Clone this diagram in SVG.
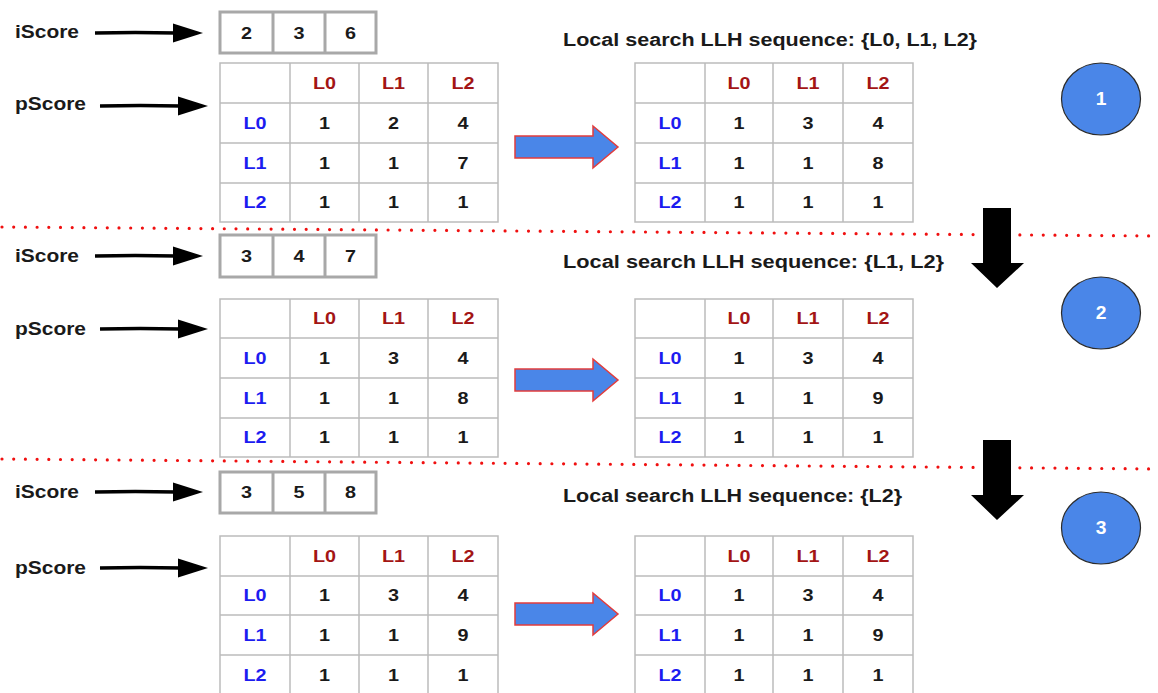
<svg xmlns="http://www.w3.org/2000/svg" width="1158" height="693" viewBox="0 0 1158 693">
<style>
.t{font-family:"Liberation Sans",Arial,Helvetica,sans-serif;font-weight:bold}
.lbl{font-size:18px;fill:#1a1a1a}
.c{font-size:16.5px;text-anchor:middle;fill:#1a1a1a;transform-box:fill-box;transform-origin:center;transform:scaleX(1.2)}
.h{fill:#a31515}
.r{fill:#1c1cf0}
.grid{fill:none;stroke:#bcbcbc;stroke-width:1.5}
.ibox{fill:#fff;stroke:#a8a8a8;stroke-width:3}
.dot{stroke:#f01010;stroke-width:3.2;stroke-dasharray:0 11.7;stroke-linecap:round;fill:none}
.shaft{stroke:#000;stroke-width:3.5;fill:none}
.head{fill:#000}
.blue{fill:#4a86e8;stroke:#e23c3c;stroke-width:1.5}
.down{fill:#000}
.circ{fill:#4a86e8;stroke:#2b2b2b;stroke-width:1.2}
.num{font-size:17.5px;fill:#fff;text-anchor:middle;transform-box:fill-box;transform-origin:center;transform:scaleX(1.1)}
</style>
<rect width="1158" height="693" fill="#fff"/>

<g id="separators">
<line class="dot" x1="2" y1="227" x2="1158" y2="236"/>
<line class="dot" x1="2" y1="459" x2="1158" y2="469"/>
</g>

<g id="labels" class="t lbl">
<text x="15" y="38" textLength="64" lengthAdjust="spacingAndGlyphs">iScore</text>
<text x="15" y="110" textLength="71" lengthAdjust="spacingAndGlyphs">pScore</text>
<text x="15" y="262" textLength="64" lengthAdjust="spacingAndGlyphs">iScore</text>
<text x="15" y="335" textLength="71" lengthAdjust="spacingAndGlyphs">pScore</text>
<text x="15" y="498" textLength="64" lengthAdjust="spacingAndGlyphs">iScore</text>
<text x="15" y="574" textLength="71" lengthAdjust="spacingAndGlyphs">pScore</text>
<text x="563" y="46" textLength="414" lengthAdjust="spacingAndGlyphs">Local search LLH sequence: {L0, L1, L2}</text>
<text x="563" y="268" textLength="381" lengthAdjust="spacingAndGlyphs">Local search LLH sequence: {L1, L2}</text>
<text x="563" y="502" textLength="339" lengthAdjust="spacingAndGlyphs">Local search LLH sequence: {L2}</text>
</g>

<!-- iScore arrays -->
<g id="iscore1">
<rect class="ibox" x="220" y="12" width="156" height="41"/>
<path class="ibox" d="M273 12V53M325 12V53"/>
<g class="t"><text class="c" x="246.5" y="39">2</text><text class="c" x="299" y="39">3</text><text class="c" x="350.5" y="39">6</text></g>
</g>
<g id="iscore2">
<rect class="ibox" x="220" y="235" width="156" height="42"/>
<path class="ibox" d="M273 235V277M325 235V277"/>
<g class="t"><text class="c" x="246.5" y="262">3</text><text class="c" x="299" y="262">4</text><text class="c" x="350.5" y="262">7</text></g>
</g>
<g id="iscore3">
<rect class="ibox" x="220" y="472" width="156" height="41"/>
<path class="ibox" d="M273 472V513M325 472V513"/>
<g class="t"><text class="c" x="246.5" y="498">3</text><text class="c" x="299" y="498">5</text><text class="c" x="350.5" y="498">8</text></g>
</g>

<!-- Panel 1 left table -->
<g id="p1-left">
<rect x="220" y="63" width="278" height="159" fill="#fff"/>
<path class="grid" d="M220 63H498V222H220ZM290 63V222M359 63V222M428 63V222M220 103H498M220 143H498M220 183H498"/>
<g class="t">
<text class="c h" x="324.5" y="89">L0</text><text class="c h" x="393.5" y="89">L1</text><text class="c h" x="463" y="89">L2</text>
<text class="c r" x="255" y="129">L0</text><text class="c" x="324.5" y="129">1</text><text class="c" x="393.5" y="129">2</text><text class="c" x="463" y="129">4</text>
<text class="c r" x="255" y="169">L1</text><text class="c" x="324.5" y="169">1</text><text class="c" x="393.5" y="169">1</text><text class="c" x="463" y="169">7</text>
<text class="c r" x="255" y="208">L2</text><text class="c" x="324.5" y="208">1</text><text class="c" x="393.5" y="208">1</text><text class="c" x="463" y="208">1</text>
</g>
</g>
<!-- Panel 1 right table -->
<g id="p1-right">
<rect x="635" y="63" width="278" height="159" fill="#fff"/>
<path class="grid" d="M635 63H913V222H635ZM705 63V222M773 63V222M843 63V222M635 103H913M635 143H913M635 183H913"/>
<g class="t">
<text class="c h" x="739" y="89">L0</text><text class="c h" x="808" y="89">L1</text><text class="c h" x="878" y="89">L2</text>
<text class="c r" x="670" y="129">L0</text><text class="c" x="739" y="129">1</text><text class="c" x="808" y="129">3</text><text class="c" x="878" y="129">4</text>
<text class="c r" x="670" y="169">L1</text><text class="c" x="739" y="169">1</text><text class="c" x="808" y="169">1</text><text class="c" x="878" y="169">8</text>
<text class="c r" x="670" y="208">L2</text><text class="c" x="739" y="208">1</text><text class="c" x="808" y="208">1</text><text class="c" x="878" y="208">1</text>
</g>
</g>

<!-- Panel 2 left table -->
<g id="p2-left">
<rect x="220" y="299" width="278" height="158" fill="#fff"/>
<path class="grid" d="M220 299H498V457H220ZM290 299V457M359 299V457M428 299V457M220 338H498M220 378H498M220 418H498"/>
<g class="t">
<text class="c h" x="324.5" y="324.5">L0</text><text class="c h" x="393.5" y="324.5">L1</text><text class="c h" x="463" y="324.5">L2</text>
<text class="c r" x="255" y="364">L0</text><text class="c" x="324.5" y="364">1</text><text class="c" x="393.5" y="364">3</text><text class="c" x="463" y="364">4</text>
<text class="c r" x="255" y="404">L1</text><text class="c" x="324.5" y="404">1</text><text class="c" x="393.5" y="404">1</text><text class="c" x="463" y="404">8</text>
<text class="c r" x="255" y="443.5">L2</text><text class="c" x="324.5" y="443.5">1</text><text class="c" x="393.5" y="443.5">1</text><text class="c" x="463" y="443.5">1</text>
</g>
</g>
<!-- Panel 2 right table -->
<g id="p2-right">
<rect x="635" y="299" width="278" height="158" fill="#fff"/>
<path class="grid" d="M635 299H913V457H635ZM705 299V457M773 299V457M843 299V457M635 338H913M635 378H913M635 418H913"/>
<g class="t">
<text class="c h" x="739" y="324.5">L0</text><text class="c h" x="808" y="324.5">L1</text><text class="c h" x="878" y="324.5">L2</text>
<text class="c r" x="670" y="364">L0</text><text class="c" x="739" y="364">1</text><text class="c" x="808" y="364">3</text><text class="c" x="878" y="364">4</text>
<text class="c r" x="670" y="404">L1</text><text class="c" x="739" y="404">1</text><text class="c" x="808" y="404">1</text><text class="c" x="878" y="404">9</text>
<text class="c r" x="670" y="443.5">L2</text><text class="c" x="739" y="443.5">1</text><text class="c" x="808" y="443.5">1</text><text class="c" x="878" y="443.5">1</text>
</g>
</g>

<!-- Panel 3 left table -->
<g id="p3-left">
<rect x="220" y="536" width="278" height="160" fill="#fff"/>
<path class="grid" d="M220 696V536H498V696M290 536V696M359 536V696M428 536V696M220 576H498M220 615H498M220 655H498"/>
<g class="t">
<text class="c h" x="324.5" y="562">L0</text><text class="c h" x="393.5" y="562">L1</text><text class="c h" x="463" y="562">L2</text>
<text class="c r" x="255" y="601.5">L0</text><text class="c" x="324.5" y="601.5">1</text><text class="c" x="393.5" y="601.5">3</text><text class="c" x="463" y="601.5">4</text>
<text class="c r" x="255" y="641">L1</text><text class="c" x="324.5" y="641">1</text><text class="c" x="393.5" y="641">1</text><text class="c" x="463" y="641">9</text>
<text class="c r" x="255" y="681">L2</text><text class="c" x="324.5" y="681">1</text><text class="c" x="393.5" y="681">1</text><text class="c" x="463" y="681">1</text>
</g>
</g>
<!-- Panel 3 right table -->
<g id="p3-right">
<rect x="635" y="536" width="278" height="160" fill="#fff"/>
<path class="grid" d="M635 696V536H913V696M705 536V696M773 536V696M843 536V696M635 576H913M635 615H913M635 655H913"/>
<g class="t">
<text class="c h" x="739" y="562">L0</text><text class="c h" x="808" y="562">L1</text><text class="c h" x="878" y="562">L2</text>
<text class="c r" x="670" y="601.5">L0</text><text class="c" x="739" y="601.5">1</text><text class="c" x="808" y="601.5">3</text><text class="c" x="878" y="601.5">4</text>
<text class="c r" x="670" y="641">L1</text><text class="c" x="739" y="641">1</text><text class="c" x="808" y="641">1</text><text class="c" x="878" y="641">9</text>
<text class="c r" x="670" y="681">L2</text><text class="c" x="739" y="681">1</text><text class="c" x="808" y="681">1</text><text class="c" x="878" y="681">1</text>
</g>
</g>

<!-- Step circles -->
<g id="step1"><ellipse class="circ" cx="1101" cy="99" rx="39.5" ry="36"/><text class="t num" x="1101" y="105.5">1</text></g>
<g id="step2"><ellipse class="circ" cx="1101" cy="313" rx="39.5" ry="36"/><text class="t num" x="1101" y="319.5">2</text></g>
<g id="step3"><ellipse class="circ" cx="1101" cy="528" rx="39.5" ry="36"/><text class="t num" x="1101" y="534.5">3</text></g>

<g id="connectors">
<!-- label arrows -->
<path class="shaft" d="M95 33Q135 32 176 33"/><polygon class="head" points="173,23.5 203,33 173,42.5"/>
<path class="shaft" d="M100 106Q140 105 181 106"/><polygon class="head" points="178,96.5 208,106 178,115.5"/>
<path class="shaft" d="M95 256Q135 255 176 256"/><polygon class="head" points="173,246.5 203,256 173,265.5"/>
<path class="shaft" d="M100 329Q140 328 181 329"/><polygon class="head" points="178,319.5 208,329 178,338.5"/>
<path class="shaft" d="M95 492Q135 491 176 492"/><polygon class="head" points="173,482.5 203,492 173,501.5"/>
<path class="shaft" d="M100 568Q140 567 181 568"/><polygon class="head" points="178,558.5 208,568 178,577.5"/>
<!-- blue block arrows -->
<polygon class="blue" points="515,136 593,136 593,126 618,147 593,168 593,158 515,158"/>
<polygon class="blue" points="515,369 593,369 593,359 618,380 593,401 593,391 515,391"/>
<polygon class="blue" points="515,603 593,603 593,593 618,614 593,635 593,625 515,625"/>
<!-- black down arrows -->
<polygon class="down" points="983,208 1011,208 1011,263 1024,263 997,288 971,263 983,263"/>
<polygon class="down" points="983,440 1011,440 1011,495 1024,495 997,520 971,495 983,495"/>
</g>
</svg>
